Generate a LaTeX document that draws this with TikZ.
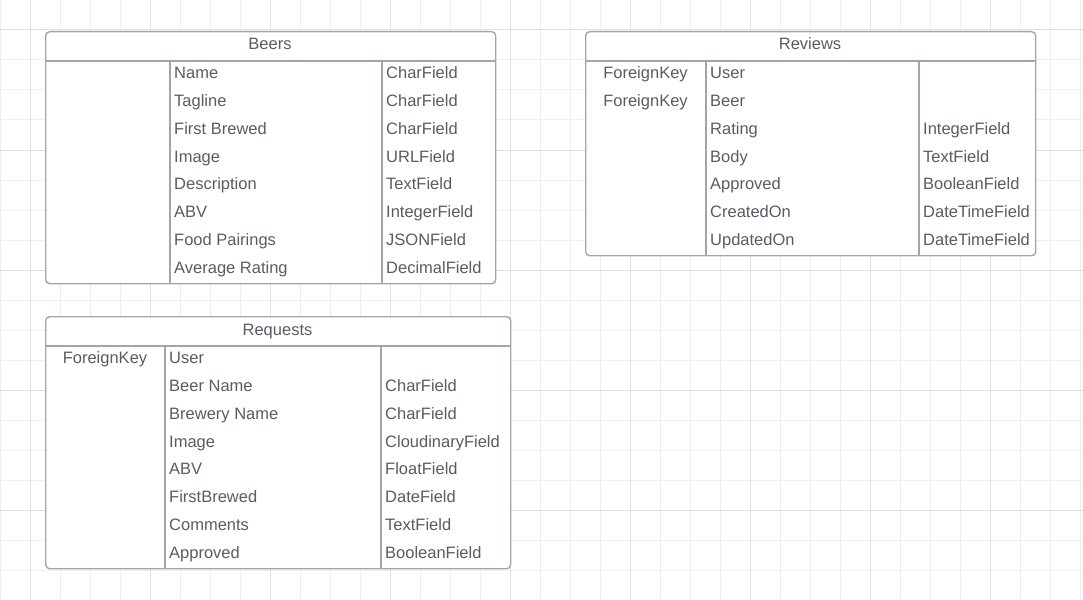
\documentclass[tikz,border=0pt]{standalone}
\usepackage{fontspec}
\setmainfont{Liberation Sans}
\definecolor{gridminor}{HTML}{EEEEEE}
\definecolor{gridmajor}{HTML}{E0E0E0}
\definecolor{boxline}{HTML}{A2A6AB}
\definecolor{txt}{HTML}{585D65}
\tikzset{
  cell/.style={anchor=base west, inner sep=0pt, text=txt, font=\fontsize{16.5}{20}\selectfont},
  ccell/.style={cell, anchor=base},
  tbl/.style={draw=boxline, line width=1.4pt, fill=white, rounded corners=4pt, anchor=north west, inner sep=0pt},
  divider/.style={draw=boxline, line width=1.4pt},
  gmin/.style={draw=gridminor, line width=1pt},
  gmaj/.style={draw=gridmajor, line width=1pt},
}
\begin{document}
\begin{tikzpicture}[x=1pt,y=-1pt]
\useasboundingbox (0,0) rectangle (1083,599);
\fill[white] (0,0) rectangle (1083,599);
% grid
\foreach \x in {0,30,...,1080} \draw[gmin] (\x,0) -- (\x,599);
\foreach \y in {0,30,...,599} \draw[gmin] (0,\y) -- (1083,\y);
\foreach \x in {30,150,...,1080} \draw[gmaj] (\x,0) -- (\x,599);
\foreach \y in {30,150,...,599} \draw[gmaj] (0,\y) -- (1083,\y);

% ---------------- Beers ----------------
\node[tbl, minimum width=450pt, minimum height=252pt] (beers) at (45,31) {};
\draw[divider] (45,61) -- (495,61);
\draw[divider] (170,61) -- (170,283);
\draw[divider] (382,61) -- (382,283);
\node[ccell] (beers-title) at (270,50) {Beers};
\foreach \t [count=\i from 0] in {Name,Tagline,First Brewed,Image,Description,ABV,Food Pairings,Average Rating}
  \node[cell] (beers-n\i) at (174,78.8+27.75*\i) {\t};
\foreach \t [count=\i from 0] in {CharField,CharField,CharField,URLField,TextField,IntegerField,JSONField,DecimalField}
  \node[cell] (beers-t\i) at (386,78.8+27.75*\i) {\t};

% ---------------- Reviews ----------------
\node[tbl, minimum width=450pt, minimum height=224pt] (reviews) at (585,31) {};
\draw[divider] (585,61) -- (1035,61);
\draw[divider] (706,61) -- (706,255);
\draw[divider] (919,61) -- (919,255);
\node[ccell] (reviews-title) at (810,50) {Reviews};
\node[ccell] (reviews-k0) at (645.5,78.8) {ForeignKey};
\node[ccell] (reviews-k1) at (645.5,78.8+27.75) {ForeignKey};
\foreach \t [count=\i from 0] in {User,Beer,Rating,Body,Approved,CreatedOn,UpdatedOn}
  \node[cell] (reviews-n\i) at (710,78.8+27.75*\i) {\t};
\foreach \t [count=\i from 2] in {IntegerField,TextField,BooleanField,DateTimeField,DateTimeField}
  \node[cell] (reviews-t\i) at (923,78.8+27.75*\i) {\t};

% ---------------- Requests ----------------
\node[tbl, minimum width=465pt, minimum height=252pt] (requests) at (45,316) {};
\draw[divider] (45,346) -- (510,346);
\draw[divider] (165,346) -- (165,568);
\draw[divider] (381,346) -- (381,568);
\node[ccell] (requests-title) at (277.5,335) {Requests};
\node[ccell] (requests-k0) at (105,363.8) {ForeignKey};
\foreach \t [count=\i from 0] in {User,Beer Name,Brewery Name,Image,ABV,FirstBrewed,Comments,Approved}
  \node[cell] (requests-n\i) at (169,363.8+27.75*\i) {\t};
\foreach \t [count=\i from 1] in {CharField,CharField,CloudinaryField,FloatField,DateField,TextField,BooleanField}
  \node[cell] (requests-t\i) at (385,363.8+27.75*\i) {\t};
\end{tikzpicture}
\end{document}
